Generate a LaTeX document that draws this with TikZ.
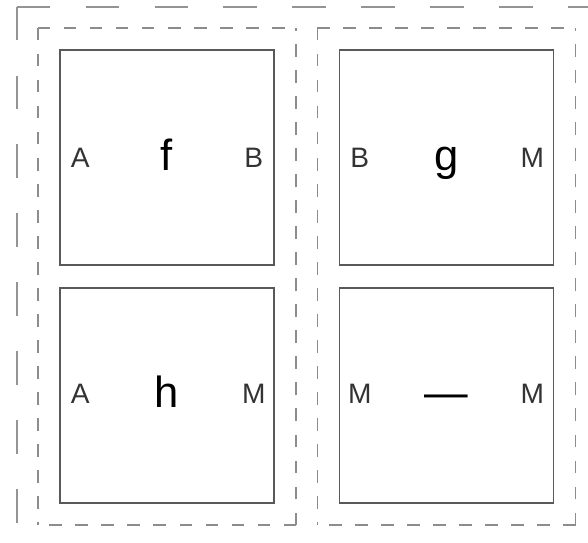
\documentclass[tikz,border=0pt]{standalone}
\usepackage{fontspec}
\setmainfont{Liberation Sans}
\usetikzlibrary{positioning, fit}
\tikzset{
  func/.style  = {draw = black!65, line width = 1pt, minimum width = 5.35cm,
                  minimum height = 5.375cm, inner sep = 0pt},
  group/.style = {inner sep = 0.53cm},
  grouplines/.style = {draw = black!45, line width = 1.05pt,
                  dash pattern = on 9pt off 9.5pt},
  framelines/.style = {draw = black!42, line width = 1.4pt,
                  dash pattern = on 24pt off 25pt},
  port/.style  = {text = black!80, anchor = base, inner sep = 0pt,
                  font = \fontsize{20}{24}\selectfont},
  fname/.style = {text = black, anchor = base, inner sep = 0pt,
                  font = \fontsize{31}{36}\selectfont}
}

\begin{document}
\begin{tikzpicture}[x=0.025cm, y=-0.025cm]
\clip (0,0) rectangle (588,543);

% Function f
\node[func] (fbox) at (167,157.5) {};
\node[port]  (fin)   at ([xshift=0.525cm, yshift=-0.24cm]fbox.west) {A};
\node[fname] (fname) at ([yshift=-0.32cm]fbox.center) {f};
\node[port]  (fout)  at ([xshift=-0.525cm, yshift=-0.24cm]fbox.east) {B};

% Function h
\node[func] (hbox) at (167,395.5) {};
\node[port]  (hin)   at ([xshift=0.525cm, yshift=-0.2cm]hbox.west) {A};
\node[fname] (hname) at ([yshift=-0.31cm]hbox.center) {h};
\node[port]  (hout)  at ([xshift=-0.525cm, yshift=-0.2cm]hbox.east) {M};

% Function g
\node[func] (gbox) at (446.5,157.5) {};
\node[port]  (gin)   at ([xshift=0.525cm, yshift=-0.24cm]gbox.west) {B};
\node[fname] (gname) at ([yshift=-0.32cm]gbox.center) {g};
\node[port]  (gout)  at ([xshift=-0.55cm, yshift=-0.24cm]gbox.east) {M};

% Unnamed function
\node[func] (ubox) at (446.5,395.5) {};
\node[port]  (uin)   at ([xshift=0.525cm, yshift=-0.2cm]ubox.west) {M};
\node[fname] (uname) at ([yshift=-0.31cm]ubox.center) {—};
\node[port]  (uout)  at ([xshift=-0.55cm, yshift=-0.2cm]ubox.east) {M};

% Groups
\node[group, fit = (fbox)(hbox)] (leftgroup) {};
\node[group, fit = (gbox)(ubox)] (rightgroup) {};
\foreach \g in {leftgroup, rightgroup} {
  \draw[grouplines] (\g.north west) -- (\g.north east)
                    (\g.north west) -- (\g.south west)
                    (\g.south east) -- (\g.south west)
                    (\g.south east) -- (\g.north east);
}

% Outer frame
\node[inner sep = 0.52cm, fit = (leftgroup)(rightgroup)] (frame) {};
\draw[framelines] (frame.north west) -- (frame.north east)
                  (frame.north west) -- (frame.south west)
                  (frame.south east) -- (frame.south west)
                  (frame.south east) -- (frame.north east);

\end{tikzpicture}
\end{document}
